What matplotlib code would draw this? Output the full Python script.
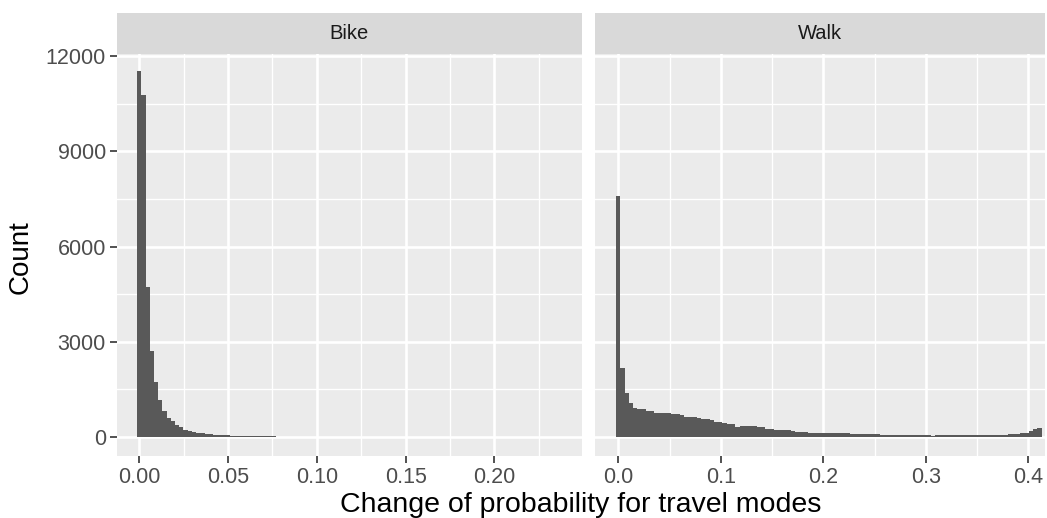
import numpy as np
import matplotlib
matplotlib.use("Agg")
import matplotlib.pyplot as plt

plt.rcParams['font.family'] = ['Liberation Sans', 'DejaVu Sans']

# histogram counts (100 bins per panel)
bike_counts = [11530, 10770, 4725, 2700, 1740, 1160, 830, 610, 490, 380,
               300, 225, 190, 160, 135, 115, 100, 85, 72, 63,
               55, 48, 42, 37, 33, 30, 27, 24, 22, 20,
               18, 16, 15, 14, 13, 12, 11, 10, 9, 8,
               8, 7, 6, 6, 5, 5, 4, 4, 3, 3,
               3, 2, 2, 2, 2, 1, 2, 1, 1, 1,
               1, 1, 0, 1, 1, 0, 1, 0, 0, 1,
               0, 0, 1, 0, 0, 0, 0, 1, 0, 0,
               0, 0, 0, 1, 0, 0, 0, 0, 0, 0,
               0, 1, 0, 0, 0, 0, 0, 0, 0, 1]
walk_counts = [7590, 2180, 1376, 1061, 904, 882, 882, 830, 830, 770,
               766, 766, 760, 724, 710, 683, 640, 620, 620, 600,
               577, 560, 535, 480, 472, 430, 420, 410, 305, 340,
               346, 340, 330, 305, 300, 260, 250, 225, 220, 220,
               215, 200, 160, 157, 150, 140, 136, 132, 130, 120,
               115, 115, 112, 110, 112, 108, 105, 84, 80, 84,
               95, 92, 60, 55, 53, 52, 50, 55, 50, 52,
               48, 50, 53, 50, 45, 48, 50, 52, 48, 50,
               46, 50, 52, 55, 50, 53, 55, 57, 60, 62,
               70, 75, 84, 86, 90, 115, 120, 180, 240, 275]
bike_binwidth = 0.00237
walk_binwidth = 0.00415

panels = ['Bike', 'Walk']
bike_ticks = [0.00, 0.05, 0.10, 0.15, 0.20]
bike_ticklabels = ['0.00', '0.05', '0.10', '0.15', '0.20']
walk_ticks = [0.0, 0.1, 0.2, 0.3, 0.4]
walk_ticklabels = ['0.0', '0.1', '0.2', '0.3', '0.4']
y_ticks = [0, 3000, 6000, 9000, 12000]

W, H = 1047, 518
fig = plt.figure(figsize=(W / 100, H / 100), dpi=100)
fig.patch.set_facecolor('white')

def px_axes(x0, y0, x1, y1):
    return fig.add_axes([x0 / W, 1 - y1 / H, (x1 - x0) / W, (y1 - y0) / H])

panel_top, panel_bot = 54, 456
ax1 = px_axes(117, panel_top, 581.7, panel_bot)
ax2 = px_axes(595, panel_top, 1045, panel_bot)

setups = [
    (ax1, bike_counts, bike_binwidth, bike_ticks, bike_ticklabels,
     (-0.01256, 0.2492), np.arange(0.025, 0.25, 0.05)),
    (ax2, walk_counts, walk_binwidth, walk_ticks, walk_ticklabels,
     (-0.0227, 0.4163), np.arange(0.05, 0.41, 0.1)),
]

for ax, counts, bw, ticks, labels, xlim, xminor in setups:
    ax.set_facecolor('#EBEBEB')
    centers = np.arange(len(counts)) * bw
    ax.set_axisbelow(True)
    ax.bar(centers, counts, width=bw, color='#595959', linewidth=0, zorder=3)
    ax.set_xlim(*xlim)
    ax.set_ylim(-600, 12065)
    ax.set_xticks(ticks)
    ax.set_xticklabels(labels)
    ax.set_xticks(xminor, minor=True)
    ax.set_yticks(y_ticks)
    ax.set_yticks([1500, 4500, 7500, 10500], minor=True)
    ax.grid(which='major', color='white', linewidth=1.9)
    ax.grid(which='minor', color='white', linewidth=0.95)
    for s in ax.spines.values():
        s.set_visible(False)
    ax.tick_params(which='major', length=5, width=1.2, color='#333333',
                   labelsize=15.5, labelcolor='#4D4D4D', pad=3)
    ax.tick_params(which='minor', length=0)

ax1.set_yticklabels([str(v) for v in y_ticks])
ax2.tick_params(axis='y', which='both', left=False, labelleft=False)

# facet strips
for (x0, x1), name in zip([(117, 581.7), (595, 1045)], panels):
    sax = px_axes(x0, 13, x1, panel_top)
    sax.set_facecolor('#D9D9D9')
    sax.set_xticks([])
    sax.set_yticks([])
    for s in sax.spines.values():
        s.set_visible(False)
    sax.text(0.5, 0.5, name, ha='center', va='center', fontsize=14.5,
             color='#1A1A1A', transform=sax.transAxes)

fig.text(21 / W, 1 - 257 / H, 'Count', rotation=90, ha='center', va='center',
         fontsize=20, color='black')
fig.text(0.5 * (117 + 1045) / W, 1 - 505 / H, 'Change of probability for travel modes',
         ha='center', va='center', fontsize=20.5, color='black')

fig.savefig('out.png', dpi=100)
